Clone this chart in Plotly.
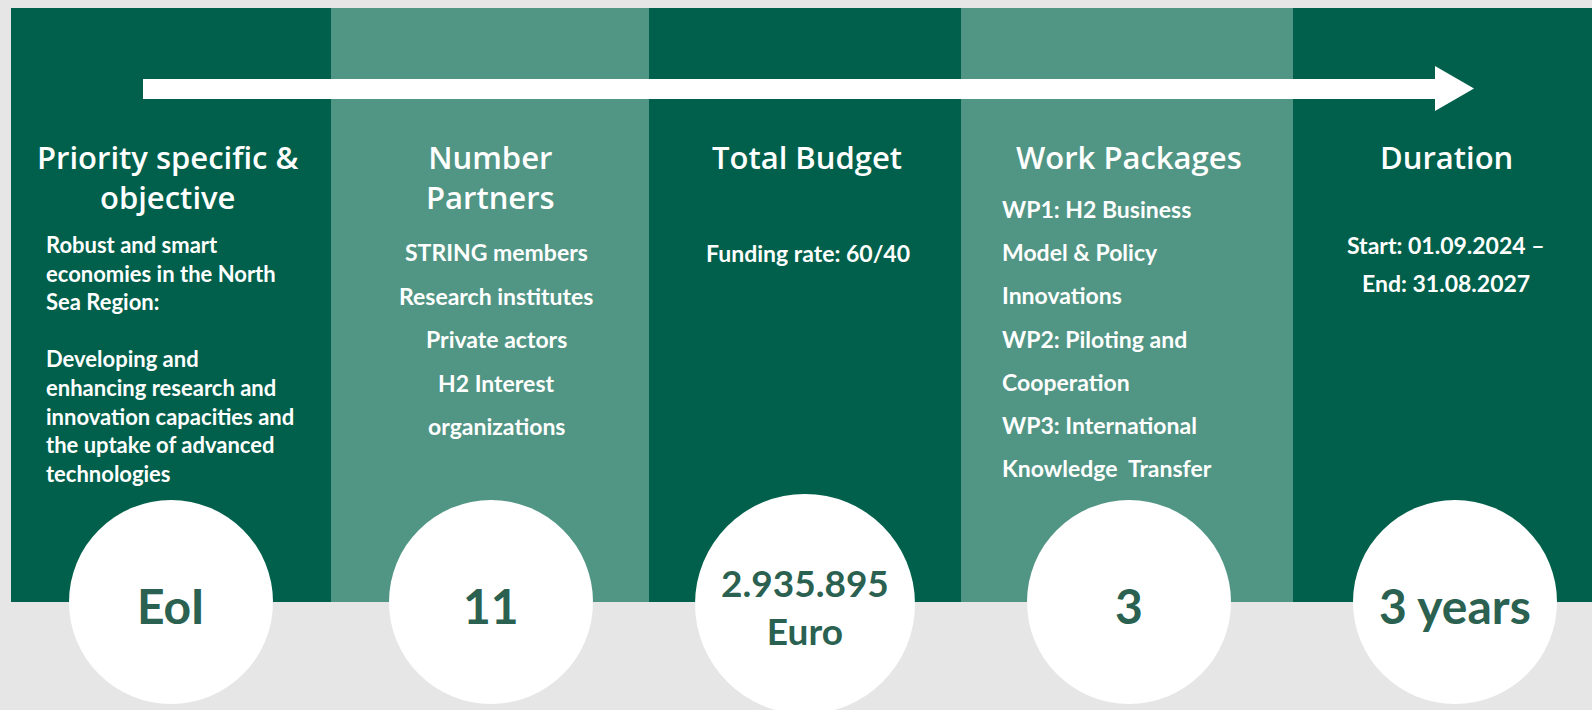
import plotly.graph_objects as go

W, H = 1592, 710

# ---- data ----
titles = [["Priority specific &", "objective"], ["Number", "Partners"], ["Total Budget"],
          ["Work Packages"], ["Duration"]]
details = [
    ["Robust and smart", "economies in the North", "Sea Region:", "", "Developing and",
     "enhancing research and", "innovation capacities and", "the uptake of advanced", "technologies"],
    ["STRING members", "Research institutes", "Private actors", "H2 Interest", "organizations"],
    ["Funding rate: 60/40"],
    ["WP1: H2 Business", "Model & Policy", "Innovations", "WP2: Piloting and", "Cooperation",
     "WP3: International", "Knowledge  Transfer"],
    ["Start: 01.09.2024 –", "End: 31.08.2027"],
]
key_values = [["EoI"], ["11"], ["2.935.895", "Euro"], ["3"], ["3 years"]]

# ---- layout constants ----
col_edges = [11, 331, 649, 961, 1293, 1592]
col_colors = ["#00604B", "#519584", "#00604B", "#519584", "#00604B"]
panel_top, panel_bot = 8, 602
circle_cx = [171, 491, 805, 1129, 1455]
circle_r = [102, 102, 110, 102, 102]
circle_cy = [602, 602, 604, 602, 602]
title_cx = [168, 490, 807, 1129, 1446]
# (x, anchor, y of first line, spacing, size, joined-in-one-block)
detail_cfg = [
    (44, "left", 245, 28.6, 22, True),
    (496, "center", 252, 43.5, 23, False),
    (808, "center", 253, 43.5, 23, False),
    (1000, "left", 209, 43.2, 23, False),
    (1446, "center", 245, 37.5, 23, False),
]
TEXT_DARK = "#2A6150"
HEAD_FONT = "Open Sans"
BODY_FONT = "Lato"

shapes = []
annotations = []

for i in range(5):
    shapes.append(dict(type="rect", x0=col_edges[i], x1=col_edges[i + 1], y0=panel_top, y1=panel_bot,
                       fillcolor=col_colors[i], line=dict(width=0), layer="below"))

# arrow
shapes.append(dict(type="path",
                   path="M 143 79 L 1435 79 L 1435 66 L 1474 88.5 L 1435 111 L 1435 99 L 143 99 Z",
                   fillcolor="white", line=dict(width=0)))

for i in range(5):
    cx, cy, r = circle_cx[i], circle_cy[i], circle_r[i]
    shapes.append(dict(type="circle", x0=cx - r, x1=cx + r, y0=cy - r, y1=cy + r,
                       fillcolor="white", line=dict(width=0)))

HEAD_SIZE = 31
for i, t in enumerate(titles):
    n = len(t)
    yc = 157 + (n - 1) * HEAD_SIZE * 1.3 / 2
    annotations.append(dict(x=title_cx[i], y=yc, text="<br>".join(t), showarrow=False,
                            xanchor="center", yanchor="middle", align="center",
                            font=dict(family=HEAD_FONT, size=HEAD_SIZE, color="white", weight=600)))

for i, d in enumerate(details):
    x, anc, y0, sp, sz, joined = detail_cfg[i]
    if joined:
        yc = y0 + (len(d) - 1) * sz * 1.3 / 2
        annotations.append(dict(x=x, y=yc, text="<br>".join(d), showarrow=False,
                                xanchor=anc, yanchor="middle", align=anc,
                                font=dict(family=BODY_FONT, size=sz, color="white", weight="bold")))
        continue
    for j, line in enumerate(d):
        annotations.append(dict(x=x, y=y0 + sp * j, text=line, showarrow=False,
                                xanchor=anc, yanchor="middle", align=anc,
                                font=dict(family=BODY_FONT, size=sz, color="white", weight="bold")))

for i, kv in enumerate(key_values):
    sz = 48 if len(kv) == 1 else 37
    yc = 605 if len(kv) == 1 else 606
    annotations.append(dict(x=circle_cx[i], y=yc, text="<br>".join(kv), showarrow=False,
                            xanchor="center", yanchor="middle", align="center",
                            font=dict(family=BODY_FONT, size=sz, color=TEXT_DARK, weight="bold")))

fig = go.Figure()
fig.update_layout(
    width=W, height=H, margin=dict(l=0, r=0, t=0, b=0),
    paper_bgcolor="#E6E6E6", plot_bgcolor="#E6E6E6",
    xaxis=dict(range=[0, W], visible=False, fixedrange=True),
    yaxis=dict(range=[H, 0], visible=False, fixedrange=True),
    shapes=shapes, annotations=annotations, showlegend=False,
)
fig.write_html("out.html", config={"displayModeBar": False},
               post_script="document.body.style.margin='0';document.body.style.overflow='hidden';")
